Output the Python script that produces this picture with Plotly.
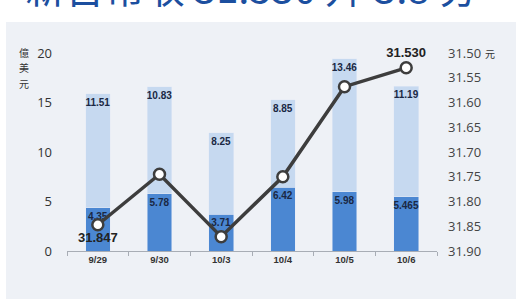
import plotly.graph_objects as go

categories = ["9/29", "9/30", "10/3", "10/4", "10/5", "10/6"]
dark_vals = [4.35, 5.78, 3.71, 6.42, 5.98, 5.465]
light_vals = [11.51, 10.83, 8.25, 8.85, 13.46, 11.19]
dark_labels = ["4.35", "5.78", "3.71", "6.42", "5.98", "5.465"]
light_labels = ["11.51", "10.83", "8.25", "8.85", "13.46", "11.19"]
rate_vals = [31.847, 31.745, 31.871, 31.750, 31.568, 31.530]
rate_labels = ["31.847", "", "", "", "", "31.530"]
left_ticks = [0, 5, 10, 15, 20]
right_ticks = [31.50, 31.55, 31.60, 31.65, 31.70, 31.75, 31.80, 31.85, 31.90]
unit_left = ["億", "美", "元"]

W, H = 527, 299
L, R, T, B = 67, 90, 53, 48

def px(x):
    return (x - L) / (W - L - R)

def py(y):
    return (H - B - y) / (H - T - B)

fig = go.Figure()
fig.add_trace(go.Bar(
    x=categories, y=dark_vals, marker_color="#4b87d2", width=0.4,
    text=dark_labels, textposition="inside", insidetextanchor="end",
    textangle=0, constraintext="none",
    textfont=dict(family="Liberation Sans", size=10, color="#1a2844", weight="bold"),
    hoverinfo="skip"))
fig.add_trace(go.Bar(
    x=categories, y=light_vals, marker_color="#c6d9f0", width=0.4,
    text=light_labels, textposition="inside", insidetextanchor="end",
    textangle=0, constraintext="none",
    textfont=dict(family="Liberation Sans", size=10, color="#1a2844", weight="bold"),
    hoverinfo="skip"))
fig.add_trace(go.Scatter(
    x=categories, y=rate_vals, yaxis="y2", mode="lines+markers+text",
    line=dict(color="#3d3d3d", width=3.5),
    marker=dict(size=11, color="white", line=dict(color="#3d3d3d", width=2.5)),
    text=rate_labels, cliponaxis=False,
    textposition=["bottom center", "top center", "top center", "top center", "top center", "top center"],
    textfont=dict(family="Liberation Sans", size=13, color="#222222", weight="bold"),
    hoverinfo="skip"))

annotations = [
    dict(text="新台幣收 31.530 升 3.8 分", xref="paper", yref="paper",
         x=px(23), y=py(17), xanchor="left", yanchor="bottom", showarrow=False,
         font=dict(family="Noto Sans CJK TC", size=40, color="#1c4f9f")),
    dict(text="元", xref="paper", yref="paper",
         x=px(490), y=py(53), xanchor="center", yanchor="middle", showarrow=False,
         font=dict(family="Noto Sans CJK TC", size=10, color="#333333")),
]
for i, ch in enumerate(unit_left):
    annotations.append(dict(text=ch, xref="paper", yref="paper",
                            x=px(24), y=py(52 + 15.5 * i), xanchor="center", yanchor="middle",
                            showarrow=False,
                            font=dict(family="Noto Sans CJK TC", size=10, color="#333333")))

fig.update_layout(
    width=W, height=H, margin=dict(l=L, r=R, t=T, b=B),
    paper_bgcolor="white", plot_bgcolor="rgba(0,0,0,0)",
    barmode="stack", showlegend=False,
    xaxis=dict(showgrid=False, showline=True, linecolor="#a8adb5", linewidth=1,
               ticks="outside", tickson="boundaries", ticklen=4, tickcolor="#a8adb5",
               tickfont=dict(family="Liberation Sans", size=9.5, color="#333333", weight="bold"),
               range=[-0.5, 5.5]),
    yaxis=dict(range=[0, 20], tickvals=left_ticks, showgrid=False, zeroline=False,
               showline=False, ticklabelstandoff=14,
               tickfont=dict(family="Open Sans", size=13, color="#333333")),
    yaxis2=dict(range=[31.90, 31.50], overlaying="y", side="right", tickvals=right_ticks,
                tickformat=".2f", showgrid=False, zeroline=False, showline=False,
                ticklabelstandoff=10,
                tickfont=dict(family="Open Sans", size=13, color="#444444")),
    shapes=[dict(type="rect", xref="paper", yref="paper", layer="below",
                 x0=px(6), x1=px(516), y0=py(299), y1=py(22),
                 fillcolor="#eef1f6", line=dict(width=0))],
    annotations=annotations,
)

fig.write_html("out.html")
